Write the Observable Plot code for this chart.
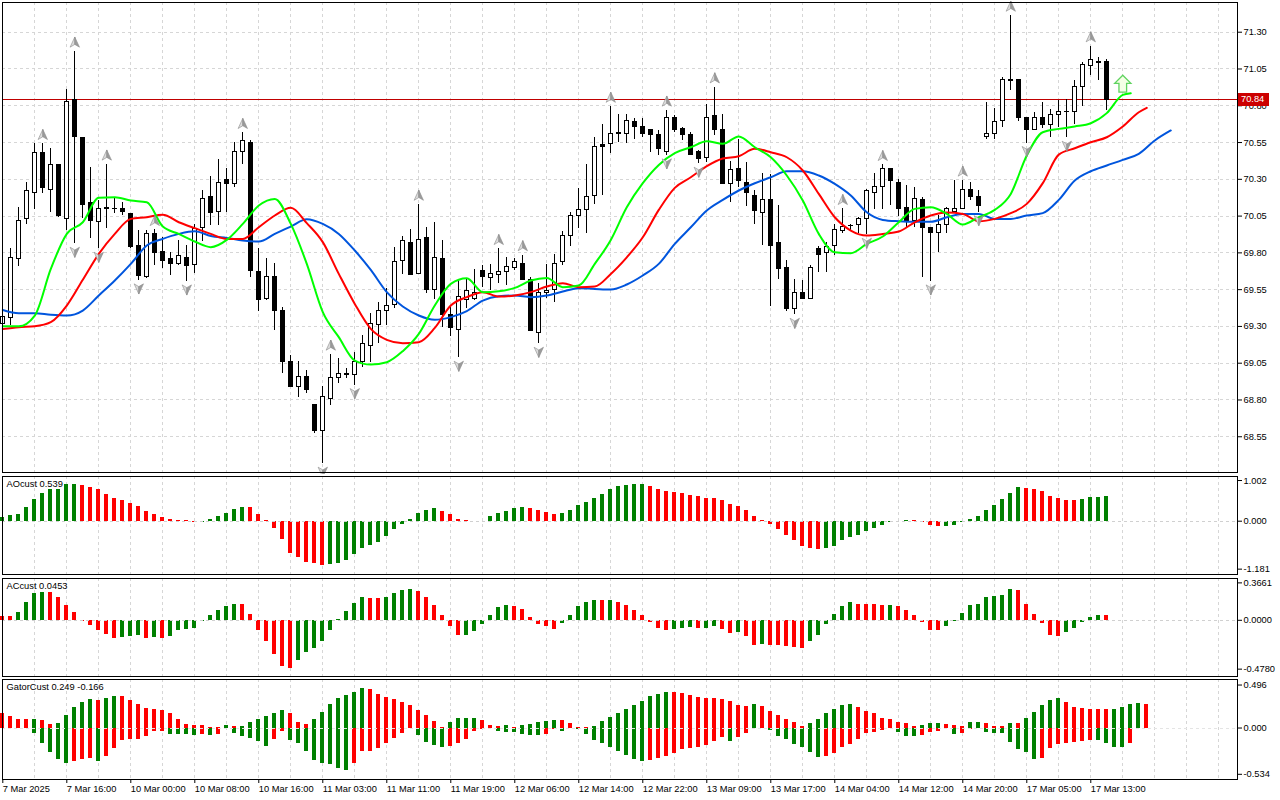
<!DOCTYPE html>
<html><head><meta charset="utf-8">
<script src="https://cdn.jsdelivr.net/npm/d3@7"></script>
<script src="https://cdn.jsdelivr.net/npm/@observablehq/plot@0.6"></script>
<style>
html,body{margin:0;padding:0;background:#fff;}
#wrap{position:relative;width:1280px;height:800px;overflow:hidden;background:#fff;font-family:"Liberation Sans",Arial,sans-serif;}
#wrap svg{position:absolute;left:0;}
#pricebox{position:absolute;left:1238px;width:31px;height:13px;background:#cc0000;color:#fff;font-size:9.3px;line-height:13px;padding-left:3px;box-sizing:border-box;}
</style>
</head><body><div id="wrap"></div>
<script>
// ---------- DATA ----------
const open = [69.317,69.358,69.759,70.031,70.208,70.480,70.228,70.394,70.031,70.840,
70.584,70.140,70.008,70.106,70.099,70.099,70.061,69.850,69.634,69.929,
69.809,69.759,69.725,69.766,69.718,69.968,70.178,70.081,70.292,70.269,
70.489,70.548,69.673,69.487,69.634,69.408,69.061,68.887,68.959,68.769,
68.587,68.807,68.948,68.975,68.968,69.057,69.165,69.313,69.408,69.447,
69.748,69.868,69.657,69.902,69.548,69.759,69.381,69.276,69.480,69.485,
69.680,69.632,69.652,69.668,69.698,69.725,69.616,69.256,69.528,69.548,
69.739,69.915,70.051,70.092,70.189,70.530,70.539,70.612,70.605,70.689,
70.655,70.632,70.602,70.484,70.715,70.639,70.602,70.484,70.446,70.731,
70.636,70.269,70.371,70.276,70.190,70.074,70.158,69.866,69.695,69.419,
69.530,69.487,69.823,69.800,69.845,69.952,69.986,69.990,70.031,70.206,
70.247,70.371,70.276,70.104,70.020,70.161,69.968,69.936,69.990,70.076,
70.099,70.228,70.178,70.586,70.609,70.696,70.975,70.977,70.718,70.636,
70.718,70.670,70.738,70.756,70.760,70.926,71.073,71.100,71.096];
const high = [69.370,69.827,70.106,70.280,70.541,70.541,70.509,70.400,70.910,71.169,
70.586,70.382,70.156,70.401,70.178,70.144,70.065,69.952,69.952,69.956,
69.907,69.800,69.884,69.850,69.990,70.224,70.319,70.432,70.371,70.548,
70.616,70.564,69.827,69.763,69.725,69.430,69.102,69.061,68.999,68.770,
68.891,69.109,69.079,69.011,69.125,69.238,69.385,69.465,69.555,69.838,
69.911,69.956,70.128,69.975,70.008,69.884,69.442,69.612,69.621,69.687,
69.714,69.718,69.827,69.770,69.765,69.785,69.634,69.589,69.723,69.791,
69.942,70.072,70.240,70.401,70.586,70.673,70.794,70.744,70.744,70.711,
70.711,70.636,70.632,70.768,70.733,70.654,70.620,70.496,70.806,70.926,
70.738,70.421,70.568,70.414,70.224,70.340,70.335,70.119,69.748,69.620,
69.612,69.714,69.845,69.868,69.993,70.099,69.993,70.042,70.228,70.340,
70.398,70.375,70.299,70.258,70.242,70.178,69.970,70.054,70.110,70.292,
70.292,70.280,70.224,70.824,70.779,70.995,71.413,70.977,70.722,70.756,
70.824,70.772,70.835,70.840,70.971,71.096,71.205,71.130,71.112];
const low = [69.300,69.306,69.709,69.993,70.094,70.206,70.076,70.040,69.952,69.861,
70.036,69.900,69.827,69.968,70.065,70.054,69.830,69.612,69.623,69.714,
69.695,69.646,69.714,69.605,69.657,69.880,69.986,69.986,70.076,70.247,
70.398,69.634,69.403,69.476,69.272,68.977,68.887,68.819,68.846,68.569,
68.366,68.762,68.909,68.945,68.900,69.023,69.057,69.181,69.306,69.419,
69.652,69.650,69.652,69.521,69.480,69.294,69.231,69.086,69.419,69.476,
69.566,69.544,69.589,69.578,69.680,69.612,69.265,69.181,69.487,69.465,
69.716,69.841,69.963,69.929,70.128,70.189,70.478,70.548,70.546,70.568,
70.586,70.480,70.462,70.462,70.621,70.566,70.462,70.405,70.416,70.598,
70.269,70.145,70.247,70.115,69.990,69.850,69.433,69.616,69.401,69.378,
69.480,69.487,69.668,69.668,69.782,69.929,69.952,69.934,69.922,70.097,
70.097,70.124,70.047,69.963,69.970,69.630,69.605,69.804,69.929,70.076,
70.099,70.156,70.076,70.568,70.568,70.655,70.904,70.696,70.546,70.632,
70.648,70.586,70.655,70.582,70.670,70.795,71.005,70.973,70.767];
const close = [69.362,69.766,70.020,70.224,70.480,70.240,70.394,70.049,70.826,70.586,
70.126,70.017,70.099,70.097,70.097,70.076,69.839,69.646,69.929,69.798,
69.743,69.725,69.777,69.714,69.963,70.167,70.072,70.276,70.269,70.489,
70.561,69.675,69.480,69.634,69.403,69.057,68.891,68.959,68.869,68.587,
68.823,68.950,68.977,68.972,69.061,69.181,69.317,69.408,69.442,69.736,
69.884,69.650,69.888,69.548,69.766,69.378,69.290,69.499,69.542,69.530,
69.634,69.655,69.673,69.702,69.741,69.616,69.267,69.528,69.544,69.723,
69.915,70.049,70.092,70.178,70.523,70.523,70.609,70.610,70.696,70.655,
70.609,70.598,70.503,70.715,70.632,70.598,70.466,70.439,70.717,70.636,
70.269,70.360,70.290,70.206,70.083,70.161,69.848,69.691,69.419,69.530,
69.485,69.698,69.786,69.843,69.956,69.979,69.984,70.029,70.219,70.247,
70.371,70.287,70.099,70.020,70.167,69.970,69.936,69.990,70.095,70.099,
70.228,70.178,70.117,70.609,70.693,70.977,70.971,70.715,70.636,70.718,
70.670,70.738,70.756,70.760,70.930,71.080,71.112,71.091,70.840];

// Alligator lines: [bar, price]
const jaw = [[0,69.412],[2,69.390],[4,69.390],[6,69.379],[8,69.374],[10,69.408],[12,69.510],[14,69.612],[16,69.725],[18,69.850],[20,69.895],[22,69.929],[24,69.947],[26,69.915],[28,69.902],[30,69.884],[32,69.877],[34,69.929],[36,69.979],[38,70.029],[40,69.997],[42,69.929],[44,69.816],[46,69.684],[48,69.533],[50,69.435],[52,69.374],[54,69.345],[56,69.363],[58,69.404],[60,69.476],[62,69.505],[64,69.510],[66,69.499],[68,69.510],[70,69.537],[72,69.560],[74,69.555],[76,69.551],[78,69.585],[80,69.646],[82,69.725],[84,69.861],[86,69.974],[88,70.088],[90,70.160],[92,70.224],[94,70.273],[96,70.314],[98,70.355],[100,70.355],[102,70.326],[104,70.269],[106,70.190],[108,70.076],[110,70.024],[112,70.015],[114,70.011],[116,70.011],[118,70.042],[120,70.065],[122,70.065],[124,70.031],[126,70.031],[128,70.054],[130,70.070],[132,70.160],[134,70.292],[136,70.355],[138,70.394],[140,70.432],[142,70.473],[144,70.564],[146,70.632]];
const teeth = [[0,69.283],[2,69.295],[4,69.301],[6,69.329],[8,69.442],[10,69.617],[12,69.793],[14,69.929],[16,70.031],[18,70.042],[20,70.060],[22,70.008],[24,69.968],[26,69.929],[28,69.895],[30,69.895],[32,69.974],[34,70.054],[36,70.106],[38,70.002],[40,69.873],[42,69.657],[44,69.453],[46,69.283],[48,69.209],[50,69.186],[52,69.193],[54,69.290],[56,69.442],[58,69.499],[60,69.533],[62,69.503],[64,69.510],[66,69.533],[68,69.571],[70,69.594],[72,69.567],[74,69.571],[76,69.657],[78,69.770],[80,69.906],[82,70.092],[84,70.242],[86,70.314],[88,70.389],[90,70.441],[92,70.457],[94,70.507],[96,70.484],[98,70.450],[100,70.360],[102,70.201],[104,70.042],[106,69.952],[108,69.918],[110,69.929],[112,69.945],[114,70.008],[116,70.054],[118,70.074],[120,70.065],[122,70.015],[124,70.031],[126,70.070],[128,70.133],[130,70.274],[132,70.468],[134,70.511],[136,70.552],[138,70.586],[140,70.659],[142,70.756],[143,70.786]];
const lips = [[0,69.301],[2,69.301],[4,69.374],[6,69.691],[8,69.929],[10,70.008],[12,70.174],[14,70.178],[16,70.156],[18,70.144],[20,69.979],[22,69.929],[24,69.877],[26,69.839],[28,69.888],[30,69.997],[32,70.122],[34,70.167],[36,69.997],[38,69.725],[40,69.397],[42,69.227],[44,69.068],[46,69.041],[48,69.057],[50,69.132],[52,69.249],[54,69.442],[56,69.589],[58,69.628],[60,69.533],[62,69.539],[64,69.562],[66,69.612],[68,69.630],[70,69.567],[72,69.578],[74,69.725],[76,69.888],[78,70.110],[80,70.274],[82,70.398],[84,70.478],[86,70.518],[88,70.559],[90,70.541],[92,70.591],[94,70.518],[96,70.450],[98,70.326],[100,70.156],[102,69.929],[104,69.804],[106,69.798],[108,69.861],[110,69.911],[112,70.008],[114,70.099],[116,70.110],[118,70.065],[120,69.993],[122,70.042],[124,70.092],[126,70.201],[128,70.462],[130,70.620],[132,70.643],[134,70.659],[136,70.681],[138,70.750],[140,70.874],[141,70.885]];

const upFractals = [5,9,13,19,30,41,52,62,65,76,83,89,105,110,120,126,136];
const downFractals = [9,12,17,23,40,44,57,67,83,87,99,108,116,122,128,133];
const signal = [{bar:140, price:70.95}];

const ao = [0.099,0.131,0.172,0.328,0.525,0.690,0.772,0.780,0.911,0.915,
0.870,0.829,0.772,0.665,0.567,0.501,0.427,0.361,0.246,0.172,
0.099,0.033,0.025,0.008,-0.041,-0.020,0.049,0.123,0.197,0.279,
0.345,0.328,0.172,0.025,-0.172,-0.460,-0.788,-0.895,-1.026,-1.030,
-1.100,-1.076,-1.034,-0.961,-0.829,-0.681,-0.608,-0.517,-0.386,-0.213,
-0.074,0.049,0.189,0.271,0.304,0.246,0.172,0.049,0.025,-0.012,
-0.005,0.107,0.197,0.246,0.304,0.345,0.320,0.255,0.222,0.172,
0.197,0.271,0.394,0.468,0.567,0.665,0.772,0.846,0.887,0.911,
0.915,0.846,0.788,0.739,0.706,0.681,0.640,0.608,0.567,0.560,
0.501,0.419,0.369,0.271,0.107,0.005,-0.090,-0.213,-0.361,-0.484,
-0.632,-0.673,-0.706,-0.680,-0.616,-0.484,-0.402,-0.361,-0.263,-0.181,
-0.115,-0.041,-0.005,0.025,0.020,-0.041,-0.115,-0.140,-0.135,-0.115,
-0.041,0.049,0.123,0.271,0.394,0.525,0.690,0.829,0.805,0.788,
0.731,0.616,0.550,0.517,0.510,0.525,0.575,0.591,0.616];
const ac = [0.042,0.036,0.078,0.170,0.264,0.274,0.270,0.225,0.147,0.078,
-0.007,-0.055,-0.104,-0.137,-0.176,-0.172,-0.163,-0.153,-0.176,-0.173,
-0.178,-0.157,-0.095,-0.088,-0.078,-0.013,0.049,0.098,0.137,0.157,
0.155,0.059,-0.098,-0.212,-0.333,-0.450,-0.470,-0.391,-0.316,-0.274,
-0.212,-0.098,0.007,0.082,0.166,0.222,0.212,0.209,0.222,0.267,
0.294,0.297,0.285,0.225,0.147,0.049,-0.065,-0.153,-0.144,-0.114,
-0.046,0.049,0.124,0.147,0.137,0.108,0.026,-0.046,-0.065,-0.088,
-0.033,0.049,0.134,0.170,0.196,0.189,0.192,0.179,0.147,0.098,
0.049,-0.023,-0.078,-0.098,-0.088,-0.078,-0.072,-0.078,-0.076,-0.059,
-0.088,-0.127,-0.121,-0.160,-0.245,-0.240,-0.247,-0.250,-0.261,-0.267,
-0.274,-0.212,-0.144,-0.046,0.059,0.137,0.176,0.157,0.155,0.153,
0.147,0.149,0.137,0.098,0.049,-0.026,-0.098,-0.104,-0.065,-0.007,
0.068,0.147,0.157,0.225,0.228,0.245,0.303,0.294,0.157,0.059,
-0.033,-0.153,-0.155,-0.124,-0.078,-0.023,0.029,0.046,0.0453];
const gatorUp = [0.162,0.131,0.104,0.096,0.098,0.085,0.038,0.050,0.146,0.238,
0.300,0.327,0.315,0.338,0.365,0.363,0.315,0.269,0.223,0.212,
0.200,0.169,0.096,0.046,0.031,0.027,0.005,0.003,0.027,0.012,
0.015,0.069,0.104,0.135,0.165,0.200,0.173,0.069,0.046,0.104,
0.181,0.269,0.338,0.373,0.415,0.454,0.442,0.392,0.350,0.327,
0.292,0.258,0.200,0.142,0.073,0.003,0.062,0.108,0.110,0.112,
0.085,0.027,0.015,0.027,0.003,0.027,0.038,0.062,0.073,0.085,
0.083,0.050,0.004,0.002,0.015,0.073,0.119,0.165,0.212,0.258,
0.304,0.362,0.385,0.408,0.405,0.396,0.373,0.350,0.338,0.336,
0.327,0.304,0.258,0.246,0.269,0.246,0.188,0.142,0.096,0.062,
0.012,0.058,0.096,0.165,0.219,0.265,0.267,0.238,0.192,0.162,
0.115,0.096,0.069,0.058,0.012,0.027,0.050,0.052,0.038,0.027,
0.012,0.065,0.069,0.058,0.019,0.017,0.050,0.048,0.115,0.181,
0.262,0.319,0.338,0.300,0.242,0.231,0.219,0.217,0.212,0.219,
0.242,0.277,0.288,0.277];
const gatorDown = [-0.001,-0.002,-0.008,-0.009,-0.065,-0.181,-0.281,-0.365,-0.408,-0.385,
-0.365,-0.354,-0.385,-0.327,-0.238,-0.142,-0.135,-0.133,-0.096,-0.038,
-0.036,-0.073,-0.077,-0.079,-0.081,-0.079,-0.085,-0.069,-0.005,-0.065,
-0.096,-0.123,-0.154,-0.212,-0.127,-0.038,-0.142,-0.177,-0.269,-0.373,
-0.415,-0.417,-0.462,-0.488,-0.408,-0.269,-0.267,-0.238,-0.181,-0.123,
-0.065,-0.008,-0.088,-0.169,-0.204,-0.227,-0.215,-0.181,-0.135,-0.042,
-0.019,-0.004,-0.042,-0.054,-0.056,-0.077,-0.088,-0.090,-0.077,-0.019,
-0.042,-0.008,-0.019,-0.077,-0.146,-0.181,-0.227,-0.273,-0.319,-0.365,
-0.388,-0.377,-0.354,-0.331,-0.296,-0.250,-0.238,-0.227,-0.204,-0.158,
-0.112,-0.158,-0.112,-0.060,-0.004,-0.002,-0.031,-0.100,-0.135,-0.192,
-0.223,-0.281,-0.338,-0.327,-0.292,-0.223,-0.185,-0.135,-0.065,-0.046,
-0.027,-0.002,-0.046,-0.096,-0.098,-0.085,-0.050,-0.038,-0.003,-0.069,
-0.065,-0.012,-0.010,-0.050,-0.065,-0.067,-0.165,-0.250,-0.281,-0.365,
-0.354,-0.238,-0.185,-0.183,-0.165,-0.154,-0.142,-0.144,-0.173,-0.223,
-0.225,-0.173];

const priceTicks = [71.30,71.05,70.80,70.55,70.30,70.05,69.80,69.55,69.30,69.05,68.80,68.55];
const aoTicks = [1.002, 0, -1.181];
const acTicks = [0.3661, 0, -0.4780];
const gatorTicks = [0.496, 0, -0.534];
const timeTicks = [0,8,16,24,32,40,48,56,64,72,80,88,96,104,112,120,128,136];
const timeLabels = ["7 Mar 2025","7 Mar 16:00","10 Mar 00:00","10 Mar 08:00","10 Mar 16:00","11 Mar 03:00","11 Mar 11:00","11 Mar 19:00","12 Mar 06:00","12 Mar 14:00","12 Mar 22:00","13 Mar 09:00","13 Mar 17:00","14 Mar 04:00","14 Mar 12:00","14 Mar 20:00","17 Mar 05:00","17 Mar 13:00"];
const aoLabel = "AOcust 0.539", acLabel = "ACcust 0.0453", gatorLabel = "GatorCust 0.249 -0.166";

// ---------- LAYOUT / STYLE ----------
const W = 1280, ML = 2, MR = 43;
const xDom = [-0.0375, 154.34];
const FONT = '"Liberation Sans", Arial, sans-serif';
const GRID = {stroke:"#d6d6d6", strokeDasharray:"3,3", shapeRendering:"crispEdges"};
const gridBars = d3.range(4, 155, 4);
const UP = "#008000", DN = "#ff0000";
const wrap = document.getElementById("wrap");

function opts(h, mt, mb, ydom, xaxis){
  return {width:W, height:h, marginLeft:ML, marginRight:MR, marginTop:mt, marginBottom:mb,
    x: xaxis ? {domain:xDom} : {domain:xDom, axis:null},
    y: {domain:ydom},
    style:{fontFamily:FONT, fontSize:"9.3px", background:"white", color:"black", overflow:"visible"}};
}
function place(svg, top){ svg.style.top = top + "px"; wrap.appendChild(svg); return svg; }

function sym(pts){ return {draw(ctx, size){ const r = Math.sqrt(size/Math.PI);
  ctx.moveTo(pts[0][0]*r, pts[0][1]*r); for (let k=1;k<pts.length;k++) ctx.lineTo(pts[k][0]*r, pts[k][1]*r); ctx.closePath(); }}; }
const upL = sym([[0,-1],[0,0.35],[-0.85,0.85]]);
const upR = sym([[0,-1],[0.85,0.85],[0,0.35]]);
const dnL = sym([[0,1],[0,-0.35],[-0.85,-0.85]]);
const dnR = sym([[0,1],[0.85,-0.85],[0,-0.35]]);
const blockUp = sym([[0,-1],[0.95,-0.05],[0.45,-0.05],[0.45,1],[-0.45,1],[-0.45,-0.05],[-0.95,-0.05]]);

// ---------- MAIN PRICE PANEL ----------
const N = close.length;
const bars = d3.range(N).map(i => ({i, o:open[i], h:high[i], l:low[i], c:close[i]}));
const last = close[N-1];
const toObj = a => a.map(([b,v]) => ({b, v}));

const main = Plot.plot({
  ...opts(474, 2, 2, [68.307, 71.502], false),
  marks: [
    Plot.ruleY(priceTicks, {...GRID}),
    Plot.ruleX(gridBars, {...GRID}),
    Plot.ruleY([last], {stroke:"#c00000", strokeWidth:1, shapeRendering:"crispEdges"}),
    Plot.ruleX(bars, {x:"i", y1:"l", y2:"h", stroke:"black", strokeWidth:1, shapeRendering:"crispEdges"}),
    Plot.rect(bars, {x1:d=>d.i-0.25, x2:d=>d.i+0.25, y1:d=>Math.min(d.o,d.c), y2:d=>Math.max(d.o,d.c),
      fill:d=>d.c>d.o?"white":"black", stroke:"black", strokeWidth:1, shapeRendering:"crispEdges"}),
    Plot.line(toObj(jaw), {x:"b", y:"v", stroke:"#0055dd", strokeWidth:2, curve:"monotone-x"}),
    Plot.line(toObj(teeth), {x:"b", y:"v", stroke:"#ff0000", strokeWidth:2, curve:"monotone-x"}),
    Plot.line(toObj(lips), {x:"b", y:"v", stroke:"#00ff00", strokeWidth:2, curve:"monotone-x"}),
    Plot.dot(upFractals, {x:d=>d, y:d=>high[d], dy:-9, r:5.5, symbol:upL, fill:"#dcdcdc", stroke:"#8a8a8a", strokeWidth:0.6}),
    Plot.dot(upFractals, {x:d=>d, y:d=>high[d], dy:-9, r:5.5, symbol:upR, fill:"#9c9c9c", stroke:"#8a8a8a", strokeWidth:0.6}),
    Plot.dot(downFractals, {x:d=>d, y:d=>low[d], dy:8, r:5.5, symbol:dnL, fill:"#dcdcdc", stroke:"#8a8a8a", strokeWidth:0.6}),
    Plot.dot(downFractals, {x:d=>d, y:d=>low[d], dy:8, r:5.5, symbol:dnR, fill:"#9c9c9c", stroke:"#8a8a8a", strokeWidth:0.6}),
    Plot.dot(signal, {x:"bar", y:"price", r:8.5, symbol:blockUp, fill:"#f4ffe6", stroke:"#5fd35f", strokeWidth:1.3}),
    Plot.frame({stroke:"black", shapeRendering:"crispEdges"}),
    Plot.axisY(priceTicks, {anchor:"right", tickSize:4, tickPadding:2, tickFormat:d=>d.toFixed(2), label:null})
  ]
});
place(main, 0);
const yLast = main.scale("y").apply(last);
const box = document.createElement("div");
box.id = "pricebox"; box.textContent = last.toFixed(2); box.style.top = (yLast - 6.5) + "px";
wrap.appendChild(box);

// ---------- HISTOGRAM HELPERS ----------
function colored(values, firstUp, magnitude){
  return values.map((v,i) => {
    const prev = i === 0 ? null : values[i-1];
    let up;
    if (prev === null) up = firstUp;
    else up = magnitude ? Math.abs(v) > Math.abs(prev) : v > prev;
    return {i, v, col: up ? UP : DN};
  });
}
function histMarks(data){
  return Plot.rect(data, {x1:d=>d.i-0.25, x2:d=>d.i+0.25, y1:d=>0, y2:d=>d.v, fill:"col", shapeRendering:"crispEdges"});
}
function labelMark(t){
  return Plot.text([t], {text:d=>d, frameAnchor:"top-left", textAnchor:"start", lineAnchor:"top", dx:4, dy:4, fill:"black"});
}

// ---------- AO PANEL ----------
const aoPlot = Plot.plot({
  ...opts(102, 2, 2, [-1.313, 1.101], false),
  marks: [
    Plot.ruleX(gridBars, {...GRID}),
    histMarks(colored(ao, true, false)),
    Plot.ruleY([0], {stroke:"#d0d0d0", strokeDasharray:"3,3", shapeRendering:"crispEdges"}),
    labelMark(aoLabel),
    Plot.frame({stroke:"black", shapeRendering:"crispEdges"}),
    Plot.axisY(aoTicks, {anchor:"right", tickSize:4, tickPadding:2, tickFormat:d=>d.toFixed(3), label:null})
  ]
});
place(aoPlot, 474);

// ---------- AC PANEL ----------
const acPlot = Plot.plot({
  ...opts(102, 2, 2, [-0.550, 0.409], false),
  marks: [
    Plot.ruleX(gridBars, {...GRID}),
    histMarks(colored(ac, false, false)),
    Plot.ruleY([0], {stroke:"#d0d0d0", strokeDasharray:"3,3", shapeRendering:"crispEdges"}),
    labelMark(acLabel),
    Plot.frame({stroke:"black", shapeRendering:"crispEdges"}),
    Plot.axisY(acTicks, {anchor:"right", tickSize:4, tickPadding:2, tickFormat:d=>d.toFixed(4), label:null})
  ]
});
place(acPlot, 576);

// ---------- GATOR PANEL ----------
const gatorPlot = Plot.plot({
  ...opts(123, 2, 21, [-0.594, 0.560], true),
  marks: [
    Plot.ruleX(gridBars, {...GRID}),
    histMarks(colored(gatorUp, false, true)),
    histMarks(colored(gatorDown, true, true)),
    Plot.ruleY([0], {stroke:"#e4e4e4", strokeDasharray:"3,3", shapeRendering:"crispEdges"}),
    labelMark(gatorLabel),
    Plot.frame({stroke:"black", shapeRendering:"crispEdges"}),
    Plot.axisY(gatorTicks, {anchor:"right", tickSize:4, tickPadding:2, tickFormat:d=>d.toFixed(3), label:null}),
    Plot.axisX(timeTicks, {anchor:"bottom", tickSize:4, tickPadding:2, textAnchor:"start",
      tickFormat:d=>timeLabels[timeTicks.indexOf(d)], label:null})
  ]
});
place(gatorPlot, 677);
</script>
</body></html>
